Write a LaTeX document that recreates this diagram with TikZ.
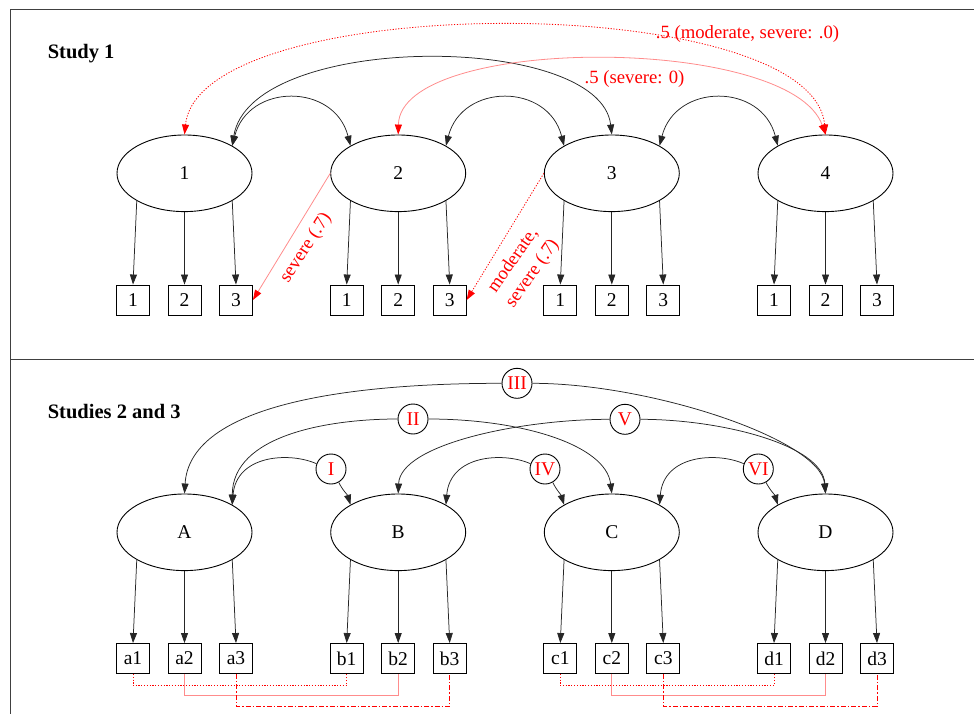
\documentclass[tikz,border=0pt]{standalone}
\usepackage{fontspec}
\setmainfont{Liberation Serif}
\usetikzlibrary{arrows.meta,shapes.geometric}

\begin{document}
\begin{tikzpicture}[x=1pt,y=-1pt,
  every node/.style={font=\fontsize{19.5}{23}\selectfont},
  latent/.style={draw, ellipse, minimum width=135pt, minimum height=76.6pt, inner sep=0pt, line width=0.9pt},
  indic/.style={draw, rectangle, minimum width=33pt, minimum height=30pt, inner sep=0pt, line width=0.9pt},
  tag/.style={draw, circle, minimum size=30pt, inner sep=0pt, text=red, line width=0.9pt},
  heading/.style={font=\bfseries\fontsize{20.5}{24}\selectfont, anchor=base west},
  rlabel/.style={font=\fontsize{18.7}{23.5}\selectfont, text=red},
  link/.style={line width=0.75pt, draw=black!85},
  arr/.style={-{Triangle[length=10pt,width=7pt]}},
  darr/.style={{Triangle[length=10pt,width=7pt]}-{Triangle[length=10pt,width=7pt]}},
  rarr/.style={-{Triangle[length=10pt,width=7pt,color=red]}},
  rdarr/.style={{Triangle[length=10pt,width=7pt,color=red]}-{Triangle[length=10pt,width=7pt,color=red]}},
  rdotted/.style={draw=red, line width=0.8pt, dash pattern=on 1.2pt off 1.6pt},
  rpale/.style={draw=red!45, line width=0.8pt},
  rdashdot/.style={draw=red, line width=0.8pt, dash pattern=on 5pt off 2pt on 1.5pt off 2pt},
  frameline/.style={line width=1.2pt, draw=black!75}
]
\useasboundingbox (0,0) rectangle (974,714);

% panel frame
\draw[frameline] (10.5,714) -- (10.5,9.3) -- (974,9.3);
\draw[frameline] (10.5,359.3) -- (974,359.3);

% ---------------- Study 1 ----------------
\node[heading] (s1) at (44.3,59) {Study 1};

\foreach \i/\cx in {1/184.5,2/398.2,3/611.8,4/825.5} {
  \node[latent] (t\i) at (\cx,173.3) {\i};
  \foreach \j/\dx in {1/-51.5,2/0,3/51.5}
    \node[indic] (t\i\j) at (\cx+\dx,300) {\j};
  \draw[link,arr] (t\i.210) -- (t\i1.north);
  \draw[link,arr] (t\i.270) -- (t\i2.north);
  \draw[link,arr] (t\i.330) -- (t\i3.north);
}

% factor covariances
\draw[link,darr] (t1.30) .. controls +(16,-63) and +(-16,-63) .. (t2.150);
\draw[link,darr] (t2.30) .. controls +(16,-63) and +(-16,-63) .. (t3.150);
\draw[link,darr] (t3.30) .. controls +(16,-63) and +(-16,-63) .. (t4.150);
\draw[link,darr] (t1.30) .. controls +(18,-114) and +(-12,-103) .. (t3.90);

% constrained paths
\draw[rdotted,rdarr] (t1.90) .. controls +(15,-145) and +(-13,-145) .. (t4.90);
\draw[rpale,rdarr] (t2.90) .. controls +(2,-100) and +(-35,-100) .. (t4.90);
\node[rlabel, anchor=base] (lab1) at (747.5,39) {.5 (moderate, severe: .0)};
\node[rlabel, anchor=base] (lab2) at (634.5,84) {.5 (severe: 0)};

\draw[rpale,rarr] (t2.180) -- (t13.east);
\draw[rdotted,rarr] (t3.180) -- (t23.east);
\node[rlabel, rotate=57] (lab3) at (306,248) {severe (.7)};
\node[rlabel, rotate=55, align=center] (lab4) at (523,267) {moderate,\\severe (.7)};

% ---------------- Studies 2 and 3 ----------------
\node[heading] (s23) at (44.3,418) {Studies 2 and 3};

\foreach \L/\l/\cx in {A/a/184.5,B/b/398.2,C/c/611.8,D/d/825.5} {
  \node[latent] (\L) at (\cx,532.3) {\L};
  \foreach \j/\dx in {1/-51.5,2/0,3/51.5}
    \node[indic] (\l\j) at (\cx+\dx,658.5) {\l\j};
  \draw[link,arr] (\L.210) -- (\l1.north);
  \draw[link,arr] (\L.270) -- (\l2.north);
  \draw[link,arr] (\L.330) -- (\l3.north);
}

% residual correlations between matching indicators
\foreach \p/\q in {a/b,c/d} {
  \draw[rdotted]  (\p1.south) -- ++(0,11.5) -| (\q1.south);
  \draw[rpale]    (\p2.south) -- ++(0,21.5) -| (\q2.south);
  \draw[rdashdot] (\p3.south) -- ++(0,32.5) -| (\q3.south);
}

% labelled covariance paths
\node[tag] (cI)   at (331,469)   {I};
\node[tag] (cII)  at (413,419)   {II};
\node[tag] (cIII) at (517,383.3) {III};
\node[tag] (cIV)  at (545,469)   {IV};
\node[tag] (cV)   at (625,419.3) {V};
\node[tag] (cVI)  at (758.3,469) {VI};

\draw[link,arr] (cI.160) .. controls +(-27,-12) and +(4,-50) .. (A.30);
\draw[link,arr] (cI.-60) .. controls +(4,8) and +(-3,-10) .. (B.150);
\draw[link,arr] (cIV.160) .. controls +(-27,-12) and +(4,-50) .. (B.30);
\draw[link,arr] (cIV.-60) .. controls +(4,8) and +(-3,-10) .. (C.150);
\draw[link,arr] (cVI.160) .. controls +(-27,-12) and +(4,-50) .. (C.30);
\draw[link,arr] (cVI.-60) .. controls +(4,8) and +(-3,-10) .. (D.150);

\draw[link,arr] (cII.180) .. controls +(-68,0) and +(0,-70) .. (A.30);
\draw[link,arr] (cII.0) .. controls +(92,0) and +(-6,-49) .. (C.90);
\draw[link,arr] (cIII.180) .. controls +(-172,0) and +(5,-84) .. (A.90);
\draw[link,arr] (cIII.0) .. controls +(118,0) and +(-5,-54) .. (D.90);
\draw[link,arr] (cV.180) .. controls +(-90,0) and +(2,-49) .. (B.90);
\draw[link,arr] (cV.0) .. controls +(80,0) and +(-3,-49) .. (D.90);
\end{tikzpicture}
\end{document}
